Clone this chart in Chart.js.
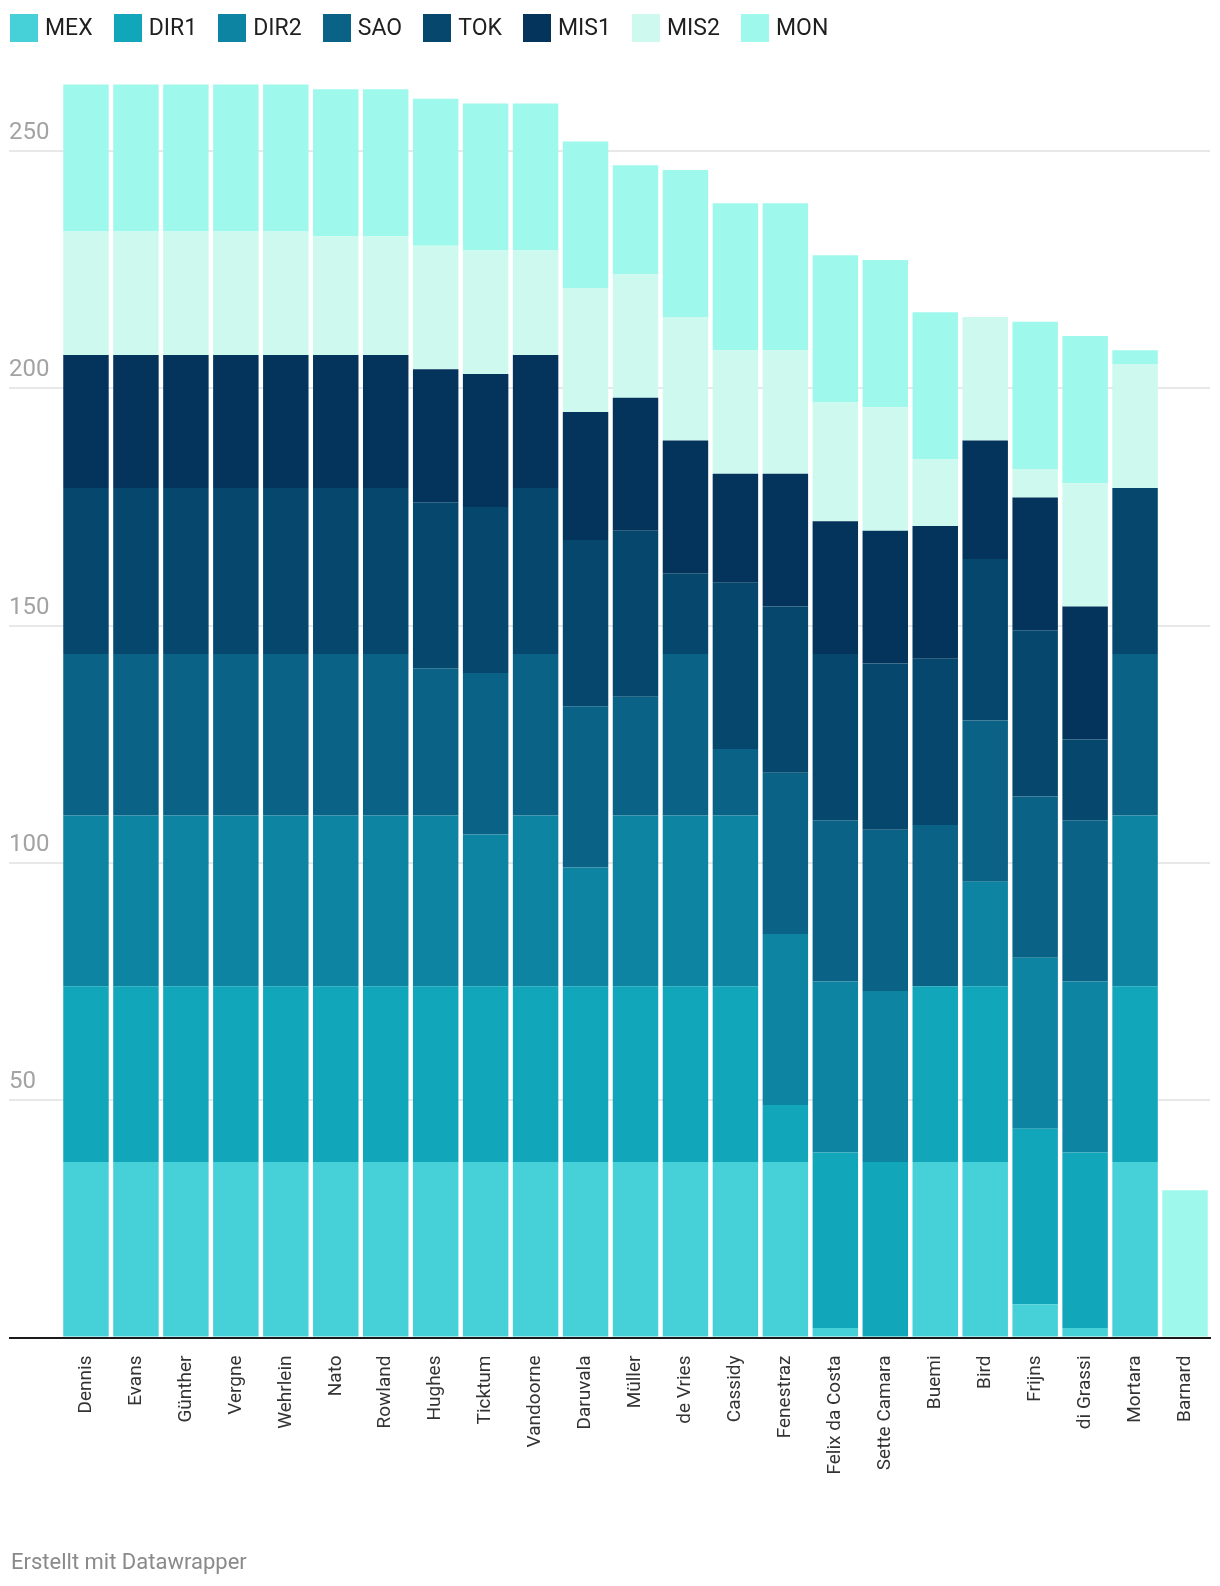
<!DOCTYPE html>
<html>
<head>
<meta charset="utf-8">
<script src="https://cdn.jsdelivr.net/npm/chart.js@4.4.1/dist/chart.umd.min.js"></script>
<style>
html,body{margin:0;padding:0;background:#fff;}
body{width:1220px;height:1586px;position:relative;overflow:hidden;font-family:Roboto,sans-serif;}
#wrap{position:absolute;left:0;top:0;width:1220px;height:1586px;}
#legend{position:absolute;left:10px;top:14px;display:flex;align-items:center;height:28px;}
.item{display:flex;align-items:center;margin-right:21.1px;}
.box{width:28px;height:28px;margin-right:7px;flex:none;}
.lbl{font-size:23px;color:#1f1f1f;line-height:28px;white-space:nowrap;}
#footer{position:absolute;left:11px;top:1550px;font-size:22px;color:#8a8a8a;line-height:24px;white-space:nowrap;}
</style>
</head>
<body>
<div id="wrap"><canvas id="c" width="1220" height="1586"></canvas></div>
<div id="legend"></div>
<div id="footer">Erstellt mit Datawrapper</div>
<script>
// ---- data ----
const drivers = ['Dennis','Evans','Günther','Vergne','Wehrlein','Nato','Rowland','Hughes','Ticktum','Vandoorne','Daruvala','Müller','de Vries','Cassidy','Fenestraz','Felix da Costa','Sette Camara','Buemi','Bird','Frijns','di Grassi','Mortara','Barnard'];
const seriesLabels = ['MEX','DIR1','DIR2','SAO','TOK','MIS1','MIS2','MON'];
const seriesColors = ['#46d0d8','#12a6ba','#0c84a2','#0a6386','#05476d','#04345b','#cdf9ef','#9ff8ec'];
const MEX  = [37,37,37,37,37,37,37,37,37,37,37,37,37,37,37, 2, 0,37,37, 7, 2,37, 0];
const DIR1 = [37,37,37,37,37,37,37,37,37,37,37,37,37,37,12,37,37,37,37,37,37,37, 0];
const DIR2 = [36,36,36,36,36,36,36,36,32,36,25,36,36,36,36,36,36, 0,22,36,36,36, 0];
const SAO  = [34,34,34,34,34,34,34,31,34,34,34,25,34,14,34,34,34,34,34,34,34,34, 0];
const TOK  = [35,35,35,35,35,35,35,35,35,35,35,35,17,35,35,35,35,35,34,35,17,35, 0];
const MIS1 = [28,28,28,28,28,28,28,28,28,28,27,28,28,23,28,28,28,28,25,28,28, 0, 0];
const MIS2 = [26,26,26,26,26,25,25,26,26,22,26,26,26,26,26,25,26,14,26, 6,26,26, 0];
const MON  = [31,31,31,31,31,31,31,31,31,31,31,23,31,31,31,31,31,31, 0,31,31, 3,31];
const seriesValues = [MEX, DIR1, DIR2, SAO, TOK, MIS1, MIS2, MON];
const yTickValues = [0,50,100,150,200,250];
const yMax = 270;

// ---- legend (HTML, built from the arrays) ----
const legend = document.getElementById('legend');
seriesLabels.forEach((name, i) => {
  const it = document.createElement('div'); it.className = 'item';
  const b = document.createElement('div'); b.className = 'box'; b.style.background = seriesColors[i];
  const t = document.createElement('span'); t.className = 'lbl'; t.textContent = name;
  it.appendChild(b); it.appendChild(t); legend.appendChild(it);
});

const GRID = '#e8e8e8', ZERO = '#1a1a1a';
new Chart(document.getElementById('c'), {
  type: 'bar',
  data: {
    labels: drivers,
    datasets: seriesLabels.map((name, i) => ({
      label: name,
      data: seriesValues[i],
      backgroundColor: seriesColors[i],
      borderWidth: 0,
      barPercentage: 0.91,
      categoryPercentage: 1.0
    }))
  },
  options: {
    responsive: false,
    devicePixelRatio: 1,
    animation: false,
    layout: { padding: { top: 56, left: 9, right: 10, bottom: 0 } },
    plugins: { legend: { display: false }, tooltip: { enabled: false } },
    scales: {
      x: {
        stacked: true,
        grid: { display: false },
        border: { display: true, color: ZERO, width: 2, z: 1 },
        ticks: {
          autoSkip: false, maxRotation: 90, minRotation: 90, padding: 10,
          color: '#333', font: { family: 'Roboto', size: 19 }
        },
        afterFit: s => { s.height = 248.5; s.paddingLeft = 0; s.paddingRight = 0; }
      },
      y: {
        stacked: true,
        min: 0, max: yMax,
        afterBuildTicks: s => { s.ticks = yTickValues.map(v => ({ value: v })); },
        border: { display: false },
        grid: {
          color: c => (c.tick && c.tick.value === 0) ? ZERO : GRID,
          tickColor: c => (c.tick && c.tick.value === 0) ? ZERO : GRID,
          lineWidth: 2,
          drawTicks: true, tickLength: 52
        },
        ticks: {
          includeBounds: false,
          crossAlign: 'far', labelOffset: -18, padding: 0,
          color: '#a3a3a3', font: { family: 'Roboto', size: 24 },
          callback: v => v === 0 ? '' : String(v)
        },
        afterFit: s => { s.width = 52; }
      }
    }
  }
});
</script>
</body>
</html>
